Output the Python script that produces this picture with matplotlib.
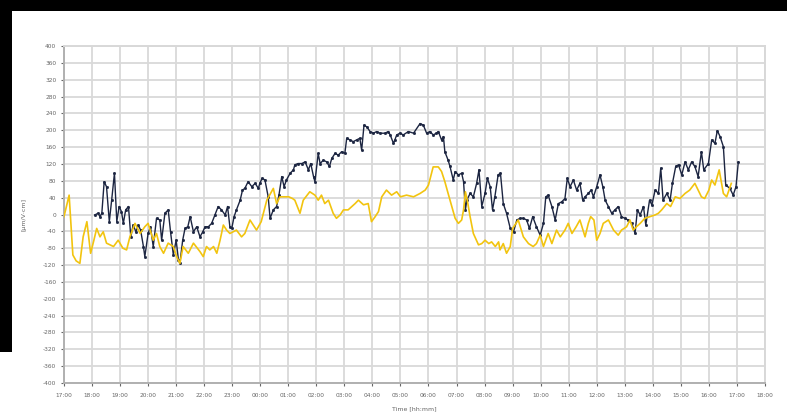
import matplotlib
matplotlib.use("Agg")
import matplotlib.pyplot as plt
from matplotlib.patches import Rectangle

# minutes after 17:00 and readings for the two probes
yellow_min = [0, 11, 19, 26, 34, 41, 49, 57, 64, 70, 77, 84, 91, 106, 116, 126, 134, 141,
              152, 163, 173, 180, 191, 198, 205, 213, 223, 234, 241, 248, 255, 266, 277,
              291, 298, 305, 312, 320, 327, 334, 341, 348, 355, 362, 369, 380, 387, 398,
              412, 422, 434, 448, 455, 462, 481, 489, 494, 505, 512, 526, 537, 544, 551,
              558, 566, 576, 583, 591, 598, 608, 616, 623, 630, 641, 651, 658, 666, 673,
              680, 690, 701, 712, 720, 733, 748, 762, 773, 780, 790, 801, 808, 815, 822,
              830, 837, 844, 851, 855, 859, 863, 869, 876, 887, 894, 901, 909, 915, 923,
              930, 933, 940, 947, 955, 960, 972, 983, 994, 1004, 1011, 1019, 1026, 1036,
              1044, 1054, 1062, 1072, 1079, 1087, 1096, 1104, 1115, 1122, 1127, 1134,
              1140, 1147, 1154, 1165, 1176, 1186, 1193, 1204, 1211, 1218, 1225, 1233,
              1243, 1254, 1265, 1272, 1279, 1290, 1298, 1308, 1318, 1329, 1339, 1350,
              1357, 1364, 1371, 1380, 1386, 1393, 1402, 1411, 1418, 1428]
yellow_val = [-5, 46, -96, -110, -116, -53, -17, -92, -61, -33, -53, -41, -68, -76, -61, -80,
              -84, -53, -21, -45, -29, -21, -61, -45, -76, -92, -68, -76, -100, -116, -76,
              -92, -68, -88, -100, -76, -84, -76, -92, -61, -25, -37, -45, -41, -37, -53,
              -45, -13, -37, -17, 34, 62, 26, 42, 42, 38, 34, 3, 34, 54, 46, 34, 46, 26, 34,
              3, -9, -1, 11, 11, 19, 26, 34, 23, 26, -17, -5, 7, 42, 58, 46, 54, 42, 46, 42,
              50, 58, 70, 113, 113, 102, 78, 50, 19, -9, -21, -13, 11, 54, 34, -5, -45, -72,
              -69, -61, -69, -65, -76, -65, -84, -69, -92, -76, -33, -13, -53, -69, -76,
              -69, -49, -76, -45, -69, -37, -53, -37, -21, -45, -29, -13, -53, -21, -5, -13,
              -61, -45, -21, -13, -37, -49, -37, -29, -13, -37, -29, -21, -9, -5, -1, 3, 11,
              26, 19, 42, 38, 50, 58, 74, 58, 42, 38, 58, 82, 70, 106, 50, 42, 74]

navy_min = [66, 73, 77, 81, 86, 91, 97, 102, 108, 113, 118, 123, 127, 132, 138, 143, 148,
            154, 159, 164, 170, 173, 180, 185, 191, 198, 205, 209, 216, 223, 228, 234, 240,
            245, 248, 254, 259, 265, 270, 277, 284, 291, 297, 302, 309, 316, 323, 330, 337,
            345, 350, 355, 359, 364, 369, 377, 382, 387, 394, 402, 409, 416, 419, 424, 430,
            437, 441, 448, 455, 460, 466, 471, 476, 484, 491, 494, 501, 509, 516, 523, 528,
            534, 537, 544, 548, 555, 562, 568, 573, 580, 587, 594, 601, 605, 612, 619, 626,
            633, 637, 642, 648, 655, 662, 669, 676, 687, 694, 698, 705, 708, 712, 719, 726,
            737, 748, 762, 769, 776, 783, 790, 797, 801, 808, 812, 815, 822, 826, 833, 837,
            844, 851, 855, 859, 862, 869, 876, 883, 888, 894, 901, 906, 912, 917, 922, 929,
            934, 940, 947, 955, 962, 969, 976, 983, 990, 996, 1003, 1011, 1019, 1026, 1031,
            1036, 1044, 1051, 1058, 1065, 1072, 1077, 1083, 1090, 1097, 1104, 1110, 1115,
            1122, 1128, 1133, 1140, 1147, 1153, 1158, 1165, 1172, 1179, 1186, 1193, 1200,
            1207, 1215, 1222, 1227, 1233, 1240, 1245, 1253, 1258, 1265, 1272, 1277, 1282,
            1290, 1297, 1302, 1309, 1315, 1322, 1329, 1336, 1343, 1350, 1357, 1364, 1369,
            1379, 1386, 1393, 1398, 1404, 1411, 1416, 1425, 1432, 1438, 1443]
navy_val = [-1, 3, -5, 3, 78, 66, -17, 34, 98, -17, 19, 7, -21, 11, 19, -53, -25, -41, -25,
            -37, -76, -100, -45, -29, -76, -9, -13, -61, 3, 11, -41, -96, -61, -108, -116,
            -61, -33, -29, -5, -41, -29, -53, -41, -29, -29, -21, -1, 19, 11, -1, 19, -29,
            -33, -5, 11, 34, 58, 62, 78, 66, 74, 62, 74, 86, 82, 42, -9, 11, 19, 46, 90,
            66, 82, 98, 106, 118, 121, 121, 125, 106, 121, 90, 78, 145, 121, 129, 125, 114,
            133, 145, 141, 149, 145, 181, 177, 173, 177, 181, 153, 212, 208, 197, 193, 197,
            193, 193, 197, 189, 169, 177, 189, 193, 189, 197, 193, 216, 212, 193, 197, 189,
            193, 197, 177, 185, 149, 129, 114, 82, 102, 94, 98, 78, 11, 34, 50, 42, 74, 106,
            19, 50, 86, 66, 11, 42, 94, 98, 26, 3, -33, -41, -13, -9, -9, -13, -33, -5, -29,
            -49, -21, 42, 46, 19, -13, 26, 30, 38, 86, 66, 82, 58, 74, 34, 42, 50, 58, 42,
            66, 94, 66, 34, 19, 3, 11, 19, -5, -9, -13, -21, -45, 11, -1, 19, -25, 34, 23,
            58, 50, 110, 34, 50, 34, 74, 114, 118, 94, 125, 106, 125, 114, 90, 149, 106,
            121, 177, 169, 199, 185, 161, 70, 62, 46, 66, 125]

hour_labels = ["17:00", "18:00", "19:00", "20:00", "21:00", "22:00", "23:00", "00:00",
               "01:00", "02:00", "03:00", "04:00", "05:00", "06:00", "07:00", "08:00",
               "09:00", "10:00", "11:00", "12:00", "13:00", "14:00", "15:00", "16:00",
               "17:00", "18:00"]
y_ticks = list(range(-400, 401, 40))

fig = plt.figure(figsize=(7.87, 4.16), dpi=100)
fig.patch.set_facecolor("white")

# dark frame strips along the top and left edge
fig.patches.append(Rectangle((0, 0.9736), 1, 0.0264, transform=fig.transFigure,
                             facecolor="black", edgecolor="none", zorder=0))
fig.patches.append(Rectangle((0, 0.1538), 0.0152, 0.8462, transform=fig.transFigure,
                             facecolor="black", edgecolor="none", zorder=0))

ax = fig.add_axes([0.0813, 0.0793, 0.8907, 0.8101])
ax.plot(navy_min, navy_val, color="#1c2541", lw=1.0, marker="s", ms=1.0, zorder=3)
ax.plot(yellow_min, yellow_val, color="#f2c40f", lw=1.2, zorder=4)

ax.set_xlim(0, 1500)
ax.set_ylim(-400, 400)
ax.set_xticks([i * 60 for i in range(len(hour_labels))])
ax.set_xticklabels(hour_labels)
ax.set_yticks(y_ticks)
ax.set_yticklabels([str(v) for v in y_ticks])

ax.grid(True, color="#d9d9d9", lw=1.3)
ax.set_axisbelow(True)
ax.tick_params(axis="both", labelsize=4.2, colors="#666666", length=2.5, width=0.8, pad=3)
ax.tick_params(axis="x", pad=5)

for side in ("left", "bottom"):
    ax.spines[side].set_color("#b0b0b0")
    ax.spines[side].set_linewidth(1.4)
for side in ("top", "right"):
    ax.spines[side].set_color("#d8d8d8")
    ax.spines[side].set_linewidth(1.4)

ax.set_xlabel("Time [hh:mm]", fontsize=4.5, color="#666666", labelpad=6)
ax.set_ylabel("[µm/V·cm]", fontsize=4.5, color="#666666", labelpad=12)

fig.savefig("out.png", dpi=100)
plt.close(fig)
